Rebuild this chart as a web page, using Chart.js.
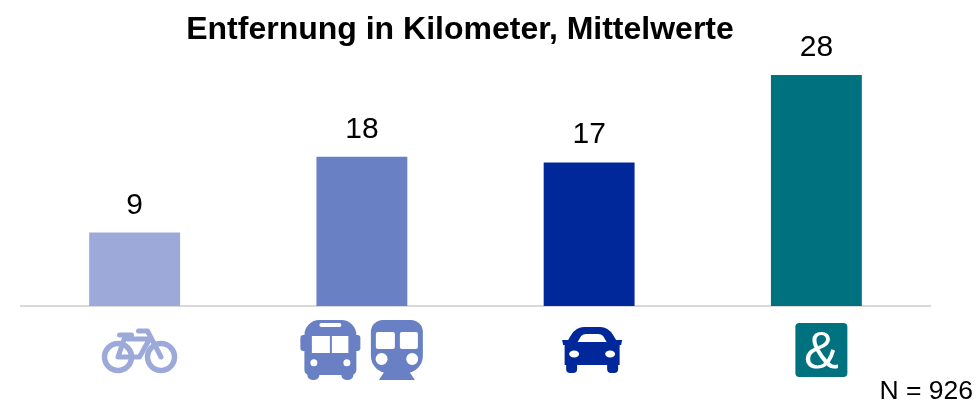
<!DOCTYPE html>
<html lang="de">
<head>
<meta charset="utf-8">
<title>Entfernung in Kilometer</title>
<script src="https://cdn.jsdelivr.net/npm/chart.js@4"></script>
<style>
  html, body { margin: 0; padding: 0; background: #fff; }
  #box { width: 976px; height: 400px; position: relative; }
</style>
</head>
<body>
<div id="box"><canvas id="grafico"></canvas></div>
<script>
const CATEGORIAS = ['Fahrrad', 'Bus und Bahn', 'Auto', 'Sonstige'];
const VALORES = [8.9, 18.1, 17.4, 28];
const ROTULOS = ['9', '18', '17', '28'];
const CORES = ['#9daad9', '#6a80c4', '#00289a', '#00727f'];
const TITULO = 'Entfernung in Kilometer, Mittelwerte';
const NOTA = 'N = 926';
const FONTE = '"Liberation Sans", Arial, sans-serif';

// icones desenhados relativos ao centro da categoria
function desenharBicicleta(ctx, cor) {
  ctx.translate(4.9, 352);
  ctx.strokeStyle = cor;
  ctx.lineWidth = 5.5;
  ctx.lineCap = 'round';
  ctx.lineJoin = 'round';
  ctx.beginPath();
  ctx.arc(-21.5, 5, 13.5, 0, Math.PI * 2);
  ctx.moveTo(35, 5);
  ctx.arc(21.5, 5, 13.5, 0, Math.PI * 2);
  ctx.stroke();
  ctx.lineWidth = 5;
  ctx.beginPath();
  ctx.moveTo(21.5, 5);
  ctx.lineTo(8, -21);
  ctx.lineTo(-1, -21);
  ctx.moveTo(10, -13);
  ctx.lineTo(-12, -13);
  ctx.moveTo(-14, -17);
  ctx.lineTo(-21.5, 5);
  ctx.lineTo(0, 5);
  ctx.lineTo(10, -13);
  ctx.moveTo(-20, -17);
  ctx.lineTo(-8, -17);
  ctx.stroke();
}

function desenharOnibus(ctx, cor) {
  ctx.translate(-31.5, 350);
  ctx.fillStyle = cor;
  ctx.beginPath();
  ctx.roundRect(-26, -30, 52, 55, [15, 15, 5, 5]);
  ctx.fill();
  ctx.beginPath();
  ctx.roundRect(-30, -15, 60, 16, 3);
  ctx.fill();
  ctx.beginPath();
  ctx.roundRect(-23, 18, 12, 12, 5);
  ctx.roundRect(11, 18, 12, 12, 5);
  ctx.fill();
  ctx.fillStyle = '#fff';
  ctx.beginPath();
  ctx.roundRect(-11, -27, 22, 4, 2);
  ctx.rect(-18.5, -14, 18, 17);
  ctx.rect(1.5, -14, 16.5, 17);
  ctx.fill();
  ctx.beginPath();
  ctx.arc(-16.5, 12.7, 3.5, 0, Math.PI * 2);
  ctx.arc(16.5, 12.7, 3.5, 0, Math.PI * 2);
  ctx.fill();
}

function desenharTrem(ctx, cor) {
  ctx.translate(35, 350);
  ctx.fillStyle = cor;
  ctx.beginPath();
  ctx.roundRect(-26, -30, 52, 53, [12, 12, 17, 17]);
  ctx.fill();
  ctx.beginPath();
  ctx.moveTo(-12, 21);
  ctx.lineTo(12, 21);
  ctx.lineTo(18, 30);
  ctx.lineTo(-18, 30);
  ctx.closePath();
  ctx.fill();
  ctx.fillStyle = '#fff';
  ctx.beginPath();
  ctx.roundRect(-21, -18, 19, 17, 2);
  ctx.roundRect(3, -18, 18, 17, 2);
  ctx.fill();
  ctx.beginPath();
  ctx.arc(-15.3, 9, 6, 0, Math.PI * 2);
  ctx.arc(15.3, 9, 6, 0, Math.PI * 2);
  ctx.fill();
}

function desenharCarro(ctx, cor) {
  ctx.translate(3, 350);
  ctx.fillStyle = cor;
  ctx.beginPath();
  ctx.moveTo(-24, -10);
  ctx.lineTo(-21, -15);
  ctx.quadraticCurveTo(-16, -23, -8, -23);
  ctx.lineTo(8, -23);
  ctx.quadraticCurveTo(16, -23, 21, -15);
  ctx.lineTo(24, -10);
  ctx.lineTo(30, -10);
  ctx.lineTo(29, -5);
  ctx.lineTo(27.5, -5);
  ctx.lineTo(27.5, 15);
  ctx.lineTo(-27.5, 15);
  ctx.lineTo(-27.5, -5);
  ctx.lineTo(-29, -5);
  ctx.lineTo(-30, -10);
  ctx.closePath();
  ctx.fill();
  ctx.beginPath();
  ctx.roundRect(-26, 10, 11, 13, 4);
  ctx.roundRect(15, 10, 11, 13, 4);
  ctx.fill();
  ctx.fillStyle = '#fff';
  ctx.beginPath();
  ctx.moveTo(-14.5, -8);
  ctx.lineTo(-11, -14);
  ctx.quadraticCurveTo(-9, -16, -6, -16);
  ctx.lineTo(6, -16);
  ctx.quadraticCurveTo(9, -16, 11, -14);
  ctx.lineTo(14.5, -8);
  ctx.closePath();
  ctx.fill();
  ctx.beginPath();
  ctx.ellipse(-18, 4, 5, 3.5, 0, 0, Math.PI * 2);
  ctx.ellipse(18, 4, 5, 3.5, 0, 0, Math.PI * 2);
  ctx.fill();
}

function desenharEComercial(ctx, cor) {
  ctx.translate(5, 350);
  ctx.fillStyle = cor;
  ctx.beginPath();
  ctx.roundRect(-26, -27, 52, 54, 4);
  ctx.fill();
  ctx.fillStyle = '#fff';
  ctx.font = '52px ' + FONTE;
  ctx.textAlign = 'center';
  ctx.textBaseline = 'alphabetic';
  ctx.fillText('&', 0, 18);
}

const ICONES = [[desenharBicicleta], [desenharOnibus, desenharTrem], [desenharCarro], [desenharEComercial]];

// valores acima das barras, icones abaixo do eixo, titulo e nota
const pluginExtras = {
  id: 'extras',
  afterDatasetsDraw(chart) {
    const ctx = chart.ctx;
    const barras = chart.getDatasetMeta(0).data;

    ctx.save();
    ctx.fillStyle = '#000';
    ctx.textAlign = 'center';
    ctx.textBaseline = 'alphabetic';
    ctx.font = '30px ' + FONTE;
    barras.forEach((b, i) => ctx.fillText(ROTULOS[i], b.x, b.y - 19));

    ctx.font = 'bold 32px ' + FONTE;
    ctx.fillText(TITULO, 460, 39);

    ctx.textAlign = 'right';
    ctx.font = '26.5px ' + FONTE;
    ctx.fillText(NOTA, 973, 399);
    ctx.restore();

    CATEGORIAS.forEach((c, i) => {
      const x = chart.scales.x.getPixelForValue(i);
      ICONES[i].forEach((fn) => {
        ctx.save();
        ctx.translate(x, 0);
        fn(ctx, CORES[i]);
        ctx.restore();
      });
    });
  },
};

new Chart(document.getElementById('grafico'), {
  type: 'bar',
  data: {
    labels: CATEGORIAS,
    datasets: [{
      data: VALORES,
      backgroundColor: CORES,
      categoryPercentage: 1,
      barPercentage: 0.4,
    }],
  },
  options: {
    responsive: true,
    maintainAspectRatio: false,
    animation: false,
    layout: { padding: { left: 21, right: 46, top: 25.5, bottom: 94 } },
    plugins: { legend: { display: false }, tooltip: { enabled: false } },
    scales: {
      x: {
        grid: { display: false, drawTicks: false },
        border: { color: '#d9d9d9', width: 2 },
        ticks: { display: false },
      },
      y: { display: false, min: 0, max: 34 },
    },
  },
  plugins: [pluginExtras],
});
</script>
</body>
</html>
